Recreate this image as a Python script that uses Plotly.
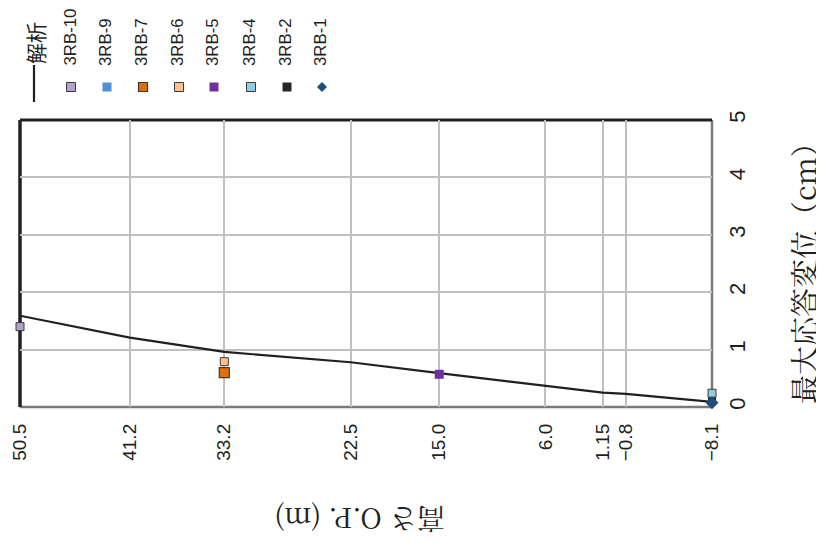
import plotly.graph_objects as go

# ---- data ----
heights = [50.5, 41.2, 33.2, 22.5, 15.0, 6.0, 1.15, -0.8, -8.1]
tick_labels = ["50.5", "41.2", "33.2", "22.5", "15.0", "6.0", "1.15", "\u22120.8", "\u22128.1"]
analysis_disp = [1.59, 1.21, 0.96, 0.78, 0.59, 0.37, 0.25, 0.23, 0.09]

series_names = ["3RB-10", "3RB-9", "3RB-7", "3RB-6", "3RB-5", "3RB-4", "3RB-2", "3RB-1"]
series_heights = [[50.5], [-8.1], [33.2], [33.2], [15.0], [-8.1], [-8.1], [-8.1]]
series_disp = [[1.40], [0.10], [0.60], [0.79], [0.57], [0.24], [0.10], [0.075]]

y_ticks = [0, 1, 2, 3, 4, 5]

# ---- styles ----
colors = ["#b3a2c9", "#558ed5", "#e46c0a", "#fac090", "#7030a0", "#93cddd", "#262626", "#1f4e79"]
symbols = ["square", "square", "square", "square", "square", "square", "square", "diamond"]
sizes = [8, 8, 10, 8, 9, 8, 8, 10]
outlines = [1, 0, 1.2, 1, 0, 1, 0, 0]

# page offset of the plotly div (default body margin)
OFF = 8
# plot area in page pixels
L, R, T, B = 20, 712, 120, 407
W, H = 824 - OFF, 544 - OFF


def px(x):
    return (x - L) / (R - L)


def py(y):
    return (B - y) / (B - T)


fig = go.Figure()
fig.add_trace(go.Scatter(x=heights, y=analysis_disp, mode="lines",
                         line=dict(color="#231f20", width=2.2), name="解析",
                         showlegend=False, cliponaxis=False))
for n, hx, dy, c, s, sz, ow in zip(series_names, series_heights, series_disp,
                                   colors, symbols, sizes, outlines):
    fig.add_trace(go.Scatter(x=hx, y=dy, mode="markers", name=n, showlegend=False,
                             cliponaxis=False,
                             marker=dict(color=c, symbol=s, size=sz,
                                         line=dict(color="#3a3a3a", width=ow))))

shapes = []
# borders
shapes.append(dict(type="line", xref="paper", yref="paper", x0=0, x1=1, y0=0, y1=0,
                   line=dict(color="#7a7a7a", width=2.5), layer="between"))
shapes.append(dict(type="line", xref="paper", yref="paper", x0=1, x1=1, y0=0, y1=1,
                   line=dict(color="#7a7a7a", width=2.5), layer="between"))
shapes.append(dict(type="line", xref="paper", yref="paper", x0=0, x1=1, y0=1, y1=1,
                   line=dict(color="#231f20", width=3), layer="between"))
shapes.append(dict(type="line", xref="paper", yref="paper", x0=0, x1=0, y0=0, y1=1,
                   line=dict(color="#231f20", width=3.5), layer="between"))

annotations = []
# legend: analysis line
shapes.append(dict(type="line", xref="paper", yref="paper", x0=px(34), x1=px(34),
                   y0=py(65), y1=py(102), line=dict(color="#231f20", width=2.2)))
annotations.append(dict(text="解析", x=px(35), y=py(65), xref="paper", yref="paper",
                        xanchor="center", yanchor="bottom", textangle=-90, showarrow=False,
                        borderpad=0,
                        font=dict(family="Noto Sans CJK JP", size=21, color="#231f20")))
leg_x = [71, 107, 143, 179, 214, 251, 287, 322]
for n, lx, c, s, ow in zip(series_names, leg_x, colors, symbols, outlines):
    half = 4.5
    if s == "diamond":
        x0, x1, ym = px(lx - 5), px(lx + 5), py(87)
        shapes.append(dict(type="path", xref="paper", yref="paper",
                           path=f"M {px(lx)} {py(82)} L {x1} {ym} L {px(lx)} {py(92)} L {x0} {ym} Z",
                           fillcolor=c, line=dict(width=0)))
    else:
        shapes.append(dict(type="rect", xref="paper", yref="paper",
                           x0=px(lx - half), x1=px(lx + half), y0=py(87 + half), y1=py(87 - half),
                           fillcolor=c,
                           line=dict(color="#3a3a3a", width=ow if ow else 0)))
    annotations.append(dict(text=n, x=px(lx - 1), y=py(67), xref="paper", yref="paper",
                            xanchor="center", yanchor="bottom", textangle=-90, showarrow=False,
                            borderpad=0,
                            font=dict(family="Liberation Sans, Arial", size=16.8, color="#231f20")))

# axis titles
annotations.append(dict(text="高さ O.P. (m)", x=px(360), y=py(520), xref="paper", yref="paper",
                        xanchor="center", yanchor="middle", textangle=180, showarrow=False,
                        font=dict(family="Noto Serif CJK JP, Noto Sans CJK JP", size=28,
                                  color="#231f20")))
annotations.append(dict(text="最大応答変位（cm）", x=px(803), y=py(266), xref="paper", yref="paper",
                        xanchor="center", yanchor="middle", textangle=-90, showarrow=False,
                        font=dict(family="Noto Serif CJK JP, Noto Sans CJK JP", size=29,
                                  color="#231f20")))

fig.update_layout(
    width=W, height=H,
    margin=dict(l=L - OFF, r=824 - R, t=T - OFF, b=544 - B),
    paper_bgcolor="white", plot_bgcolor="white",
    showlegend=False,
    shapes=shapes, annotations=annotations,
    xaxis=dict(range=[50.5, -8.1], tickmode="array", tickvals=heights, ticktext=tick_labels,
               tickangle=-90, showgrid=True, gridcolor="#c0c0c0", gridwidth=1.5,
               zeroline=False, showline=False, ticks="", ticklabelstandoff=12,
               automargin=False,
               tickfont=dict(family="Liberation Sans, Arial", size=19, color="#231f20")),
    yaxis=dict(range=[0, 5], side="right", tickmode="array", tickvals=y_ticks,
               tickangle=-90, showgrid=True, gridcolor="#c0c0c0", gridwidth=1.5,
               zeroline=False, showline=False, ticks="", ticklabelstandoff=10,
               automargin=False,
               tickfont=dict(family="Liberation Sans, Arial", size=22, color="#231f20")),
)

fig.write_html("out.html")
